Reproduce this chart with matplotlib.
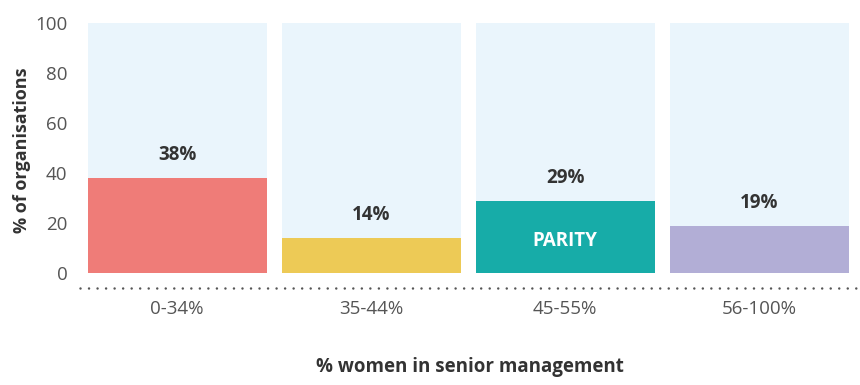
import matplotlib.pyplot as plt

# Data
categories = ["0-34%", "35-44%", "45-55%", "56-100%"]
values = [38, 14, 29, 19]
bar_colors = ["#EF7C78", "#EDCA56", "#17ACA8", "#B2AED6"]
y_ticks = [0, 20, 40, 60, 80, 100]

plt.rcParams['font.family'] = ['Open Sans', 'DejaVu Sans']

fig = plt.figure(figsize=(8.6, 3.85), dpi=100)
ax = fig.add_axes([80 / 860, 1 - 288 / 385, 780 / 860, (288 - 23) / 385])

x = list(range(len(categories)))
width = 179 / 194

# background columns up to 100%
ax.bar(x, [100] * len(x), width=width, color="#EAF5FC", zorder=1)
ax.bar(x, values, width=width, color=bar_colors, zorder=2)

for i, v in enumerate(values):
    ax.text(i, v + 5, f"{v}%", ha="center", va="bottom", fontsize=13.5,
            fontweight="bold", color="#333333", zorder=3)

ax.text(2, 13, "PARITY", ha="center", va="center", fontsize=13.5,
        fontweight="bold", color="white", zorder=3)

ax.set_xlim(-0.5, 3.52)
ax.set_ylim(-6, 100)
ax.set_yticks(y_ticks)
ax.set_xticks(x)
ax.set_xticklabels(categories)
ax.tick_params(axis="both", length=0, labelsize=13.5, labelcolor="#555555")
ax.tick_params(axis="x", pad=9)
ax.tick_params(axis="y", pad=9)

for s in ["top", "right", "left"]:
    ax.spines[s].set_visible(False)
ax.spines["bottom"].set_linestyle((0, (0.01, 3.4)))
ax.spines["bottom"].set_linewidth(1.8)
ax.spines["bottom"].set_capstyle("round")
ax.spines["bottom"].set_color("#555555")

ax.set_ylabel("% of organisations", fontsize=13, fontweight="bold",
              color="#333333")
ax.yaxis.set_label_coords(-0.063, 0.52)
fig.text(470 / 860, 1 - 367 / 385, "% women in senior management",
         ha="center", va="center", fontsize=13.5, fontweight="bold", color="#333333")

fig.savefig("out.png", dpi=100)
